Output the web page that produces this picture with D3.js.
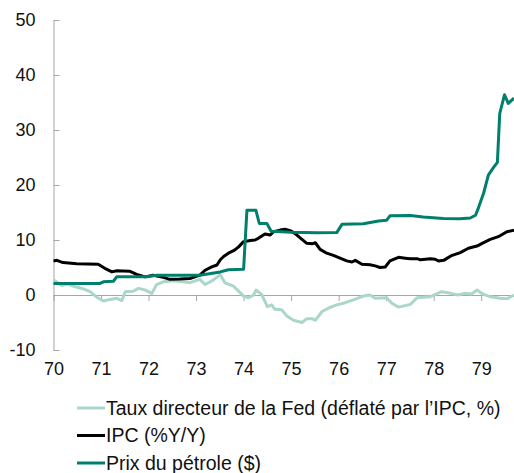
<!DOCTYPE html>
<meta charset="utf-8">
<html>
<head>
<style>
  body { margin: 0; background: #fff; }
  svg text { font-family: "Liberation Sans", Arial, sans-serif; font-size: 18px; fill: #111; }
  .legend text { font-size: 19.5px; }
  .axis path, .axis line { stroke: #a6a6a6; }
</style>
<script src="https://d3js.org/d3.v7.min.js"></script>
</head>
<body>
<svg width="514" height="473"></svg>
<script>

// tick labels
var yTicks = [-10, 0, 10, 20, 30, 40, 50];
var xTicks = [70, 71, 72, 73, 74, 75, 76, 77, 78, 79];

// Taux directeur de la Fed (deflate par l'IPC)
var fedDates  = [70.0, 70.17, 70.28, 70.42, 70.63, 70.77, 70.91, 71.05, 71.19, 71.33, 71.44, 71.51, 71.68, 71.79, 71.93,
                 72.07, 72.17, 72.31, 72.52, 72.87, 73.08, 73.19, 73.36, 73.51, 73.61, 73.79, 74.0, 74.1, 74.21, 74.26,
                 74.38, 74.5, 74.59, 74.66, 74.8, 74.91, 75.05, 75.23, 75.33, 75.44, 75.51, 75.65, 75.82, 75.96, 76.14,
                 76.31, 76.52, 76.66, 76.77, 77.01, 77.12, 77.26, 77.51, 77.65, 77.93, 78.17, 78.36, 78.51, 78.65, 78.8,
                 78.91, 79.05, 79.19, 79.4, 79.54, 79.69];
var fedValues = [2.8, 1.7, 2.0, 1.6, 1.1, 0.6, -0.4, -1.1, -0.8, -0.6, -1.0, 0.6, 0.7, 1.2, 0.9,
                 0.3, 1.9, 2.4, 2.6, 2.25, 2.85, 1.9, 2.7, 3.7, 2.2, 1.6, -0.2, -0.5, 0.0, 0.9,
                 0.1, -2.1, -1.8, -2.6, -2.7, -3.8, -4.6, -5.0, -4.3, -4.3, -4.6, -3.0, -2.25, -1.8, -1.4,
                 -0.9, -0.2, 0.0, -0.6, -0.5, -1.5, -2.2, -1.7, -0.5, -0.3, 0.6, 0.3, 0.0, 0.3, 0.2,
                 0.9, 0.1, -0.3, -0.6, -0.7, 0.0];

// IPC (%Y/Y)
var cpiDates  = [70.0, 70.07, 70.2, 70.49, 70.94, 71.08, 71.23, 71.33, 71.61, 71.75, 71.93, 72.1, 72.31, 72.45, 72.66,
                 72.87, 73.08, 73.19, 73.33, 73.44, 73.51, 73.58, 73.68, 73.79, 73.89, 74.0, 74.14, 74.24, 74.31, 74.45,
                 74.56, 74.63, 74.77, 74.87, 74.98, 75.08, 75.19, 75.33, 75.44, 75.51, 75.61, 75.75, 75.89, 76.03, 76.17,
                 76.28, 76.35, 76.49, 76.66, 76.77, 76.87, 76.98, 77.08, 77.26, 77.4, 77.51, 77.65, 77.72, 77.93, 78.03,
                 78.1, 78.21, 78.36, 78.56, 78.73, 78.91, 79.02, 79.19, 79.36, 79.54, 79.69];
var cpiValues = [6.2, 6.3, 5.9, 5.7, 5.6, 4.85, 4.2, 4.4, 4.3, 3.75, 3.3, 3.6, 3.2, 2.85, 2.9,
                 3.0, 3.6, 4.5, 5.1, 5.45, 6.4, 7.0, 7.6, 8.05, 8.7, 9.7, 9.9, 10.0, 10.3, 11.1,
                 10.9, 11.5, 11.8, 11.95, 11.7, 11.2, 10.4, 9.4, 9.3, 9.5, 8.3, 7.6, 7.2, 6.7, 6.2,
                 6.0, 6.3, 5.6, 5.5, 5.3, 5.0, 5.1, 6.2, 6.85, 6.7, 6.6, 6.6, 6.4, 6.6, 6.5,
                 6.2, 6.3, 7.1, 7.7, 8.5, 8.9, 9.4, 10.1, 10.6, 11.5, 11.8];

// Prix du petrole ($)
var oilDates  = [70.0, 70.98, 71.05, 71.26, 71.33, 71.96, 72.17, 73.08, 73.51, 73.68, 74.0, 74.07, 74.26, 74.33, 74.49,
                 74.58, 75.0, 75.54, 75.96, 76.07, 76.52, 76.84, 77.01, 77.08, 77.51, 77.78, 78.2, 78.55, 78.77, 78.88,
                 78.94, 79.05, 79.15, 79.26, 79.34, 79.39, 79.49, 79.57, 79.69];
var oilValues = [2.1, 2.1, 2.4, 2.5, 3.3, 3.3, 3.6, 3.6, 4.2, 4.6, 4.7, 15.4, 15.4, 13.0, 13.0,
                 11.6, 11.4, 11.3, 11.35, 12.85, 12.95, 13.45, 13.6, 14.4, 14.45, 14.2, 13.9, 13.85, 14.0, 14.5,
                 15.8, 18.5, 21.8, 23.2, 24.1, 33.0, 36.4, 34.85, 35.8];

var legendLabels = ["Taux directeur de la Fed (déflaté par l’IPC, %)", "IPC (%Y/Y)", "Prix du pétrole ($)"];
var seriesColors = ["#abd6ca", "#000000", "#00806c"];

var svg = d3.select("svg");

var x = d3.scaleLinear()
    .domain([70, 79.69])
    .range([53.5, 514]);

var y = d3.scaleLinear()
    .domain([-10, 50])
    .range([350, 20]);

// y axis, ticks pointing right, plain hyphen for negatives
svg.append("g")
    .attr("class", "axis")
    .attr("transform", "translate(" + x(70) + ",0)")
    .call(d3.axisLeft(y).tickValues(yTicks).tickSizeInner(-6).tickSizeOuter(0).tickPadding(18)
        .tickFormat(function(d) { return String(d); }));

// zero line with year ticks
svg.append("g")
    .attr("class", "axis")
    .attr("transform", "translate(0," + y(0) + ")")
    .call(d3.axisBottom(x).tickValues(xTicks).tickSizeInner(6).tickSizeOuter(0).tickFormat(""));

// year labels below the plot
var xl = svg.append("g")
    .attr("transform", "translate(0," + y(-10) + ")")
    .call(d3.axisBottom(x).tickValues(xTicks).tickSize(0).tickPadding(12));
xl.select(".domain").remove();

var series = [
    {dates: fedDates, values: fedValues},
    {dates: cpiDates, values: cpiValues},
    {dates: oilDates, values: oilValues}
];

var line = d3.line()
    .x(function(d) { return x(d[0]); })
    .y(function(d) { return y(d[1]); });

svg.append("g")
    .selectAll("path")
    .data(series)
    .enter().append("path")
    .attr("fill", "none")
    .attr("stroke", function(d, i) { return seriesColors[i]; })
    .attr("stroke-width", 3)
    .attr("stroke-linejoin", "round")
    .attr("d", function(d) { return line(d.dates.map(function(t, j) { return [t, d.values[j]]; })); });

// legend
var legend = svg.append("g")
    .attr("class", "legend")
    .selectAll("g")
    .data(legendLabels)
    .enter().append("g")
    .attr("transform", function(d, i) { return "translate(77," + (408 + i * 27.5) + ")"; });

legend.append("line")
    .attr("x1", 0).attr("x2", 28)
    .attr("stroke", function(d, i) { return seriesColors[i]; })
    .attr("stroke-width", 3);

legend.append("text")
    .attr("x", 29)
    .attr("dy", "0.35em")
    .text(function(d) { return d; });

</script>
</body>
</html>
